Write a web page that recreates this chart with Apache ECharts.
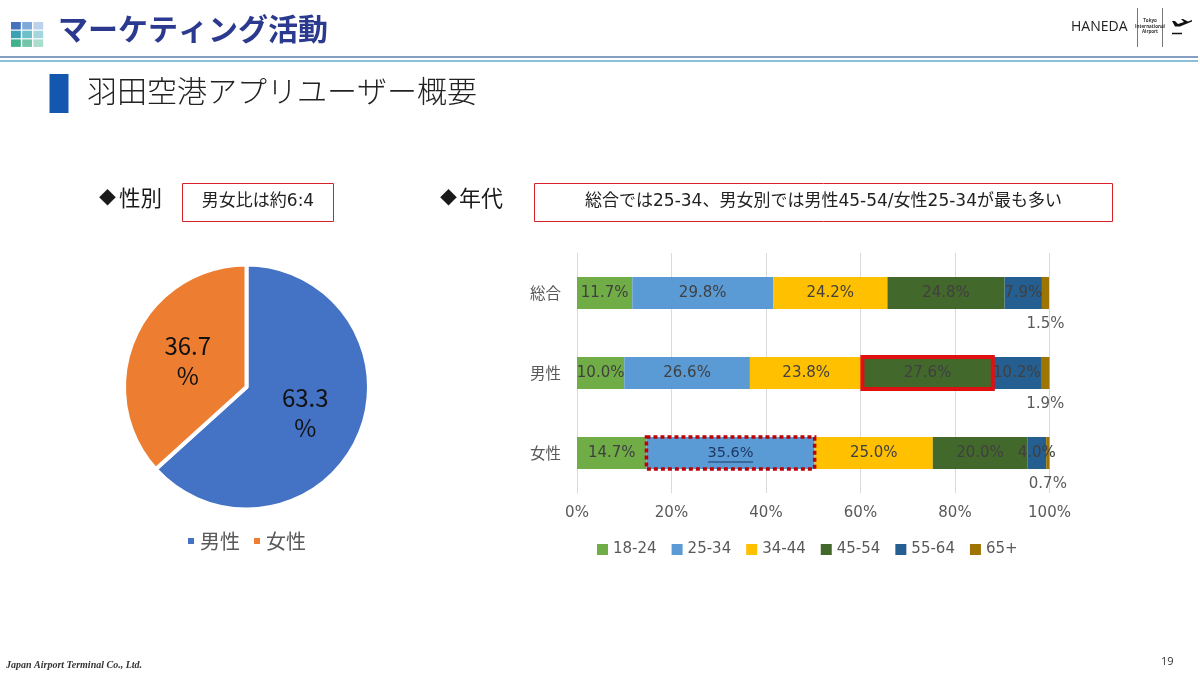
<!DOCTYPE html>
<html lang="ja">
<head>
<meta charset="utf-8">
<title>羽田空港アプリユーザー概要</title>
<style>html,body{margin:0;padding:0;background:#fff}#c{width:1200px;height:673px}</style>
<script src="https://cdn.jsdelivr.net/npm/echarts@6/dist/echarts.min.js"></script>
</head>
<body>
<div id="c"></div>
<script>
const genderNames = ['男性', '女性'];
const genderValues = [63.3, 36.7];
const categories = ['総合', '男性', '女性'];
const ageGroups = ['18-24', '25-34', '34-44', '45-54', '55-64', '65+'];
const age1824 = [11.7, 10.0, 14.7];
const age2534 = [29.8, 26.6, 35.6];
const age3444 = [24.2, 23.8, 25.0];
const age4554 = [24.8, 27.6, 20.0];
const age5564 = [7.9, 10.2, 4.0];
const age65 = [1.5, 1.9, 0.7];
const ageColors = ['#70AD47', '#5B9BD5', '#FFC000', '#43682B', '#255E91', '#9E7502'];
const genderColors = ['#4472C4', '#ED7D31'];
const pageTitle = 'マーケティング活動';
const subTitle = '羽田空港アプリユーザー概要';

const JP = '"Noto Sans CJK JP","Noto Sans",sans-serif';
const MIX = '"DejaVu Sans","Noto Sans CJK JP",sans-serif';
const ageSeries = [age1824, age2534, age3444, age4554, age5564, age65];

function itemFor(seriesIdx, catIdx, v) {
  const item = { value: v };
  if (seriesIdx === 1 && catIdx === 2) {
    item.label = {
      formatter: (p) => '{t|' + p.value.toFixed(1) + '%}\n{u|}',
      rich: {
        t: { color: '#1F3864', fontSize: 14.5, fontFamily: MIX, height: 16, align: 'center' },
        u: { width: 45, height: 1, backgroundColor: '#1F3864', align: 'center' }
      }
    };
  }
  return item;
}

const barSeries = ageGroups.map((name, i) => ({
  name,
  type: 'bar',
  stack: 'age',
  xAxisIndex: 0,
  yAxisIndex: 0,
  barWidth: '40%',
  itemStyle: { color: ageColors[i] },
  label: i === 5 ? {
    show: true, position: 'bottom', distance: 7.5, color: '#595959', fontSize: 15, fontFamily: MIX,
    formatter: (p) => p.value.toFixed(1) + '%'
  } : {
    show: true, position: 'inside', color: '#404040', fontSize: 15, fontFamily: MIX, padding: [2, 0, 0, 0],
    formatter: (p) => p.value.toFixed(1) + '%'
  },
  data: ageSeries[i].map((v, c) => itemFor(i, c, v))
}));

function stackStart(seriesIdx, catIdx) {
  let s = 0;
  for (let i = 0; i < seriesIdx; i++) s += ageSeries[i][catIdx];
  return s;
}

// Outlines around the two highlighted segments, placed through the chart's own scales.
const highlightSeries = {
  type: 'custom',
  silent: true,
  z: 5,
  xAxisIndex: 0,
  yAxisIndex: 0,
  encode: { x: [0, 1], y: 2 },
  data: [
    [stackStart(3, 1), stackStart(3, 1) + age4554[1], 1, 0],
    [stackStart(1, 2), stackStart(1, 2) + age2534[2], 2, 1]
  ],
  renderItem: (params, api) => {
    const a = api.coord([api.value(0), api.value(2)]);
    const b = api.coord([api.value(1), api.value(2)]);
    const h = api.size([0, 1])[1] * 0.4;
    const dashed = api.value(3) === 1;
    return {
      type: 'rect',
      shape: { x: a[0], y: a[1] - h / 2, width: b[0] - a[0], height: h },
      style: dashed
        ? { fill: 'none', stroke: '#C00000', lineWidth: 3.5, lineDash: [4, 3] }
        : { fill: 'none', stroke: '#E01010', lineWidth: 4 }
    };
  }
};

const pieSeries = {
  name: '性別',
  type: 'pie',
  center: [246.5, 387],
  radius: [0, 122.5],
  startAngle: 90,
  clockwise: true,
  itemStyle: { borderColor: '#fff', borderWidth: 4 },
  label: {
    show: true, position: 'inside', color: '#111', fontSize: 24, lineHeight: 30,
    fontFamily: JP,
    formatter: (p) => p.value.toFixed(1) + '\n%'
  },
  labelLine: { show: false },
  data: genderNames.map((n, i) => ({ name: n, value: genderValues[i], itemStyle: { color: genderColors[i] } }))
};

function rect(x, y, w, h, style) { return { type: 'rect', shape: { x, y, width: w, height: h }, style, silent: true }; }
function line(x1, y1, x2, y2, stroke, lineWidth) { return { type: 'line', shape: { x1, y1, x2, y2 }, style: { stroke, lineWidth }, silent: true }; }
function text(x, y, t, font, fill, align) {
  return { type: 'text', x, y, silent: true, style: { text: t, font, fill, textAlign: align || 'left', textVerticalAlign: 'middle' } };
}

const iconColors = [
  ['#4472BC', '#7FA9D9', '#BBD1EC'],
  ['#3AA2B2', '#6FBFCB', '#A4D6DE'],
  ['#41B18B', '#72C5A9', '#AADDCB']
];
const deco = [];
iconColors.forEach((row, r) => row.forEach((c, k) => {
  deco.push(rect(11 + k * 11.2, 22 + r * 8.7, 9.8, 7.5, { fill: c }));
}));
deco.push(
  text(58, 29, pageTitle, 'bold 30px ' + JP, '#2B3A8F'),
  line(0, 57, 1198, 57, '#5B7FAE', 1.5),
  line(0, 61, 1198, 61, '#8CC0D8', 2),
  rect(49.5, 74, 19, 39, { fill: '#1457AE' }),
  text(87, 91, subTitle, '300 30px ' + JP, '#222'),
  text(1071, 27, 'HANEDA', '14px "Open Sans",sans-serif', '#222'),
  line(1137.5, 8, 1137.5, 47, '#777', 1),
  line(1162.5, 8, 1162.5, 47, '#777', 1),
  text(1150, 21, 'Tokyo', 'bold 4.5px "Open Sans",sans-serif', '#333', 'center'),
  text(1150, 26.5, 'International', 'bold 4.5px "Open Sans",sans-serif', '#333', 'center'),
  text(1150, 32, 'Airport', 'bold 4.5px "Open Sans",sans-serif', '#333', 'center'),
  { type: 'polygon', silent: true, shape: { points: [[1172, 21], [1175, 21], [1178, 24], [1184, 22], [1181, 19], [1183, 19], [1188, 21.5], [1192, 20], [1192, 21.5], [1180, 26.5], [1175, 26.5]] }, style: { fill: '#111' } },
  line(1172, 33.5, 1182, 33.5, '#111', 1.5),
  text(99, 198, '◆', '17px ' + JP, '#1a1a1a'),
  text(119, 198, '性別', '21.5px ' + JP, '#1a1a1a'),
  rect(182.5, 183.5, 151, 38, { fill: '#fff', stroke: '#D8202A', lineWidth: 1 }),
  text(258, 202, '男女比は約6:4', '17px ' + MIX, '#222', 'center'),
  text(440, 198, '◆', '17px ' + JP, '#1a1a1a'),
  text(459, 198, '年代', '22px ' + JP, '#1a1a1a'),
  rect(534.5, 183.5, 578, 38, { fill: '#fff', stroke: '#D8202A', lineWidth: 1 }),
  text(823.5, 202, '総合では25-34、男女別では男性45-54/女性25-34が最も多い', '17px ' + MIX, '#222', 'center'),
  text(6, 665.5, 'Japan Airport Terminal Co., Ltd.', 'italic bold 10px "Liberation Serif",serif', '#333'),
  text(1161, 662, '19', '11px "Open Sans",sans-serif', '#333')
);

const chart = echarts.init(document.getElementById('c'), null, { renderer: 'canvas' });
chart.setOption({
  animation: false,
  backgroundColor: '#fff',
  color: ageColors,
  graphic: deco,
  grid: { left: 577, top: 253, width: 472.5, height: 240, containLabel: false },
  xAxis: {
    type: 'value', min: 0, max: 100, interval: 20,
    axisLine: { show: false }, axisTick: { show: false },
    axisLabel: { formatter: '{value}%', color: '#595959', fontSize: 15, margin: 13, fontFamily: MIX },
    splitLine: { lineStyle: { color: '#D9D9D9', width: 1 } }
  },
  yAxis: {
    type: 'category', inverse: true, data: categories,
    axisLine: { show: true, lineStyle: { color: '#D9D9D9' } },
    axisTick: { show: false },
    axisLabel: { color: '#595959', fontSize: 15.5, margin: 16, fontFamily: JP, padding: [0, 0, 8, 0] }
  },
  legend: [
    {
      data: genderNames, left: 186, top: 531, padding: 0, icon: 'rect', itemWidth: 8, itemHeight: 8, itemGap: 12,
      textStyle: { color: '#595959', fontSize: 20, fontFamily: JP },
      selectedMode: false
    },
    {
      data: ageGroups, left: 597, top: 542, padding: 0, icon: 'rect', itemWidth: 11, itemHeight: 11, itemGap: 15,
      textStyle: { color: '#595959', fontSize: 15, fontFamily: MIX },
      selectedMode: false
    }
  ],
  series: [pieSeries].concat(barSeries, [highlightSeries])
});
</script>
</body>
</html>
